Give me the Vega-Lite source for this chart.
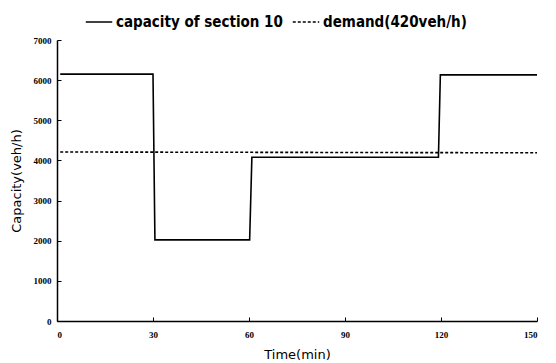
{
  "$schema": "https://vega.github.io/schema/vega-lite/v6.json",
  "width": 480,
  "height": 281,
  "autosize": {"type": "none"},
  "padding": {"left": 57, "top": 40, "right": 19, "bottom": 42},
  "background": "white",
  "data": {
    "values": [
      {"series": "capacity of section 10", "t": 1, "v": 6150, "o": 1},
      {"series": "capacity of section 10", "t": 30, "v": 6150, "o": 2},
      {"series": "capacity of section 10", "t": 30.6, "v": 2020, "o": 3},
      {"series": "capacity of section 10", "t": 60.2, "v": 2020, "o": 4},
      {"series": "capacity of section 10", "t": 60.9, "v": 4080, "o": 5},
      {"series": "capacity of section 10", "t": 119.2, "v": 4080, "o": 6},
      {"series": "capacity of section 10", "t": 119.8, "v": 6130, "o": 7},
      {"series": "capacity of section 10", "t": 150, "v": 6130, "o": 8},
      {"series": "demand(420veh/h)", "t": 1, "v": 4210, "o": 1},
      {"series": "demand(420veh/h)", "t": 150, "v": 4190, "o": 2}
    ]
  },
  "mark": {"type": "line", "color": "black", "strokeWidth": 1.6},
  "encoding": {
    "x": {
      "field": "t", "type": "quantitative",
      "scale": {"domain": [0, 150], "nice": false},
      "axis": {
        "values": [0, 30, 60, 90, 120, 150],
        "format": "d",
        "title": "Time(min)",
        "grid": false,
        "tickSize": -4,
        "labelPadding": 13,
        "labelFont": "Liberation Serif", "labelFontSize": 9, "labelFontWeight": "bold",
        "titleFont": "DejaVu Sans", "titleFontSize": 13, "titleFontWeight": "normal",
        "titlePadding": 9,
        "domainColor": "black", "domainWidth": 1.5, "tickColor": "black", "labelColor": "black", "titleColor": "black"
      }
    },
    "y": {
      "field": "v", "type": "quantitative",
      "scale": {"domain": [0, 7000], "nice": false},
      "axis": {
        "values": [0, 1000, 2000, 3000, 4000, 5000, 6000, 7000],
        "format": "d",
        "title": "Capacity(veh/h)",
        "grid": false,
        "tickSize": -4,
        "labelPadding": 10,
        "labelFont": "Liberation Serif", "labelFontSize": 9, "labelFontWeight": "bold",
        "titleFont": "DejaVu Sans", "titleFontSize": 13, "titleFontWeight": "normal",
        "titlePadding": 10,
        "domainColor": "black", "domainWidth": 1.5, "tickColor": "black", "labelColor": "black", "titleColor": "black"
      }
    },
    "order": {"field": "o", "type": "quantitative"},
    "strokeDash": {
      "field": "series", "type": "nominal",
      "scale": {"domain": ["capacity of section 10", "demand(420veh/h)"], "range": [[1, 0], [3, 2]]},
      "legend": {
        "title": null,
        "orient": "none",
        "direction": "horizontal",
        "legendX": 28,
        "legendY": -32,
        "symbolType": "stroke",
        "symbolSize": 700,
        "symbolStrokeColor": "black",
        "symbolStrokeWidth": 1.5,
        "labelFont": "DejaVu Sans Condensed",
        "labelFontSize": 15,
        "labelFontWeight": "bold",
        "labelLimit": 400,
        "labelColor": "black",
        "columnPadding": 6,
        "labelOffset": 3
      }
    }
  },
  "config": {"view": {"stroke": null}}
}
